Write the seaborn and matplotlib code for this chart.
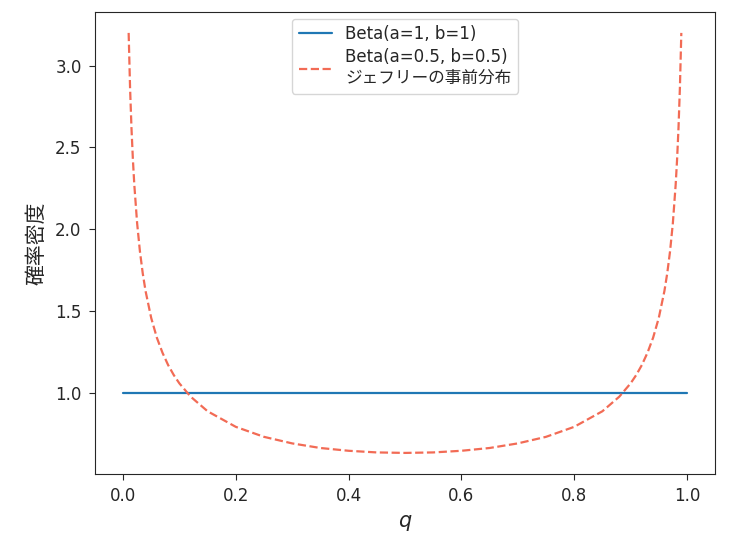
import numpy as np
import pandas as pd
import matplotlib
matplotlib.use('Agg')
import matplotlib.pyplot as plt
import seaborn as sns

sns.set_style('ticks')
plt.rcParams['font.family'] = ['DejaVu Sans', 'Noto Sans CJK JP']
plt.rcParams['axes.unicode_minus'] = False

# Beta(a=1, b=1): flat density
uniform_q = [0.0, 0.25, 0.5, 0.75, 1.0]
uniform_density = [1.0, 1.0, 1.0, 1.0, 1.0]

# Beta(a=0.5, b=0.5): Jeffreys prior
jeffreys_q = [0.01, 0.0125, 0.015, 0.0175, 0.02, 0.025, 0.03, 0.035, 0.04, 0.05,
              0.06, 0.07, 0.08, 0.09, 0.10, 0.12, 0.15, 0.20, 0.25, 0.30,
              0.35, 0.40, 0.45, 0.50, 0.55, 0.60, 0.65, 0.70, 0.75, 0.80,
              0.85, 0.88, 0.90, 0.91, 0.92, 0.93, 0.94, 0.95, 0.96, 0.965,
              0.97, 0.975, 0.98, 0.9825, 0.985, 0.9875, 0.99]
jeffreys_density = [3.199, 2.865, 2.619, 2.428, 2.274, 2.039, 1.866, 1.732, 1.624, 1.460,
                    1.340, 1.248, 1.173, 1.112, 1.061, 0.980, 0.891, 0.796, 0.735, 0.695,
                    0.667, 0.650, 0.640, 0.637, 0.640, 0.650, 0.667, 0.695, 0.735, 0.796,
                    0.891, 0.980, 1.061, 1.112, 1.173, 1.248, 1.340, 1.460, 1.624, 1.732,
                    1.866, 2.039, 2.274, 2.428, 2.619, 2.865, 3.199]

df_uniform = pd.DataFrame({'q': uniform_q, 'density': uniform_density})
df_jeffreys = pd.DataFrame({'q': jeffreys_q, 'density': jeffreys_density})

fig, ax = plt.subplots(figsize=(7.35, 5.41), dpi=100)
sns.lineplot(data=df_uniform, x='q', y='density', ax=ax, color='#1f77b4',
             linewidth=1.6, label='Beta(a=1, b=1)')
sns.lineplot(data=df_jeffreys, x='q', y='density', ax=ax, color='#f26b55',
             linewidth=1.6, linestyle='--',
             label='Beta(a=0.5, b=0.5)\nジェフリーの事前分布')

ax.set_xlabel('$q$', fontsize=15, labelpad=6)
ax.set_ylabel('確率密度', fontsize=15, labelpad=6)
ax.tick_params(labelsize=12, length=4.5, pad=5)
leg = ax.legend(loc='upper center', fontsize=12, borderaxespad=0.4,
                handlelength=2.0, labelspacing=0.3)
for side in ['top', 'right']:
    ax.spines[side].set_visible(True)

fig.subplots_adjust(left=0.129, right=0.973, bottom=0.124, top=0.978)
fig.savefig('out.png', dpi=100)
